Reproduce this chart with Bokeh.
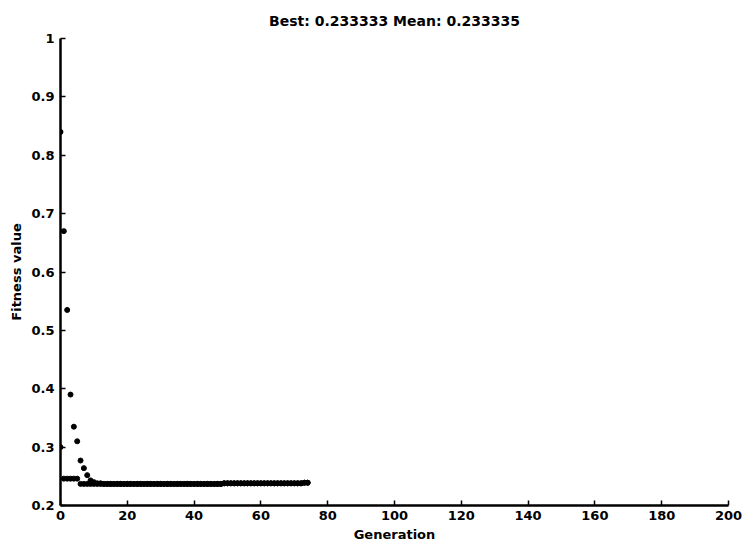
from bokeh.plotting import figure
from bokeh.embed import file_html
from bokeh.resources import INLINE
from bokeh.models import FixedTicker

# Generation index
generations = [0, 1, 2, 3, 4, 5, 6, 7, 8, 9,
               10, 11, 12, 13, 14, 15, 16, 17, 18, 19,
               20, 21, 22, 23, 24, 25, 26, 27, 28, 29,
               30, 31, 32, 33, 34, 35, 36, 37, 38, 39,
               40, 41, 42, 43, 44, 45, 46, 47, 48, 49,
               50, 51, 52, 53, 54, 55, 56, 57, 58, 59,
               60, 61, 62, 63, 64, 65, 66, 67, 68, 69,
               70, 71, 72, 73, 74]

best_fitness = [0.300, 0.246, 0.246, 0.246, 0.246, 0.246, 0.237, 0.237, 0.237, 0.237,
                0.237, 0.237, 0.237, 0.237, 0.237, 0.237, 0.237, 0.237, 0.237, 0.237,
                0.237, 0.237, 0.237, 0.237, 0.237, 0.237, 0.237, 0.237, 0.237, 0.237,
                0.237, 0.237, 0.237, 0.237, 0.237, 0.237, 0.237, 0.237, 0.237, 0.237,
                0.237, 0.237, 0.237, 0.237, 0.237, 0.237, 0.237, 0.237, 0.237, 0.238,
                0.238, 0.238, 0.238, 0.238, 0.238, 0.238, 0.238, 0.238, 0.238, 0.238,
                0.238, 0.238, 0.238, 0.238, 0.238, 0.238, 0.238, 0.238, 0.238, 0.238,
                0.238, 0.238, 0.238, 0.239, 0.239]

mean_fitness = [0.840, 0.670, 0.535, 0.390, 0.335, 0.310, 0.277, 0.264, 0.252, 0.243,
                0.240, 0.238, 0.238, 0.237, 0.237, 0.237, 0.237, 0.237, 0.237, 0.237,
                0.237, 0.237, 0.237, 0.237, 0.237, 0.237, 0.237, 0.237, 0.237, 0.237,
                0.237, 0.237, 0.237, 0.237, 0.237, 0.237, 0.237, 0.237, 0.237, 0.237,
                0.237, 0.237, 0.237, 0.237, 0.237, 0.237, 0.237, 0.237, 0.237, 0.238,
                0.238, 0.238, 0.238, 0.238, 0.238, 0.238, 0.238, 0.238, 0.238, 0.238,
                0.238, 0.238, 0.238, 0.238, 0.238, 0.238, 0.238, 0.238, 0.238, 0.238,
                0.238, 0.238, 0.238, 0.239, 0.239]

x_ticks = [0, 20, 40, 60, 80, 100, 120, 140, 160, 180, 200]
y_ticks = [0.2, 0.3, 0.4, 0.5, 0.6, 0.7, 0.8, 0.9, 1.0]
y_tick_labels = {0.2: "0.2", 0.3: "0.3", 0.4: "0.4", 0.5: "0.5", 0.6: "0.6",
                 0.7: "0.7", 0.8: "0.8", 0.9: "0.9", 1.0: "1"}

title_text = "Best: 0.233333 Mean: 0.233335"

FONT = "DejaVu Sans"

p = figure(width=746, height=544, x_range=(0, 200), y_range=(0.2, 1.0),
           output_backend="svg", toolbar_location=None,
           min_border_left=60, min_border_right=18,
           min_border_top=38, min_border_bottom=38)

p.title.text = title_text
p.title.align = "center"
p.title.text_font = FONT
p.title.text_font_size = "14px"
p.title.text_font_style = "bold"
p.title.text_color = "black"
p.title.standoff = 19
p.title.offset = -9

p.outline_line_color = None
p.grid.visible = False
p.background_fill_color = "white"
p.border_fill_color = "white"

for ax in (p.xaxis[0], p.yaxis[0]):
    ax.axis_line_color = "black"
    ax.axis_line_width = 2.5
    ax.major_tick_line_color = "black"
    ax.major_tick_line_width = 1.5
    ax.major_tick_in = 5
    ax.major_tick_out = 0
    ax.minor_tick_line_color = None
    ax.major_label_text_font = FONT
    ax.major_label_text_font_size = "13px"
    ax.major_label_text_font_style = "bold"
    ax.major_label_text_color = "black"
    ax.axis_label_text_font = FONT
    ax.axis_label_text_font_size = "13px"
    ax.axis_label_text_font_style = "bold"
    ax.axis_label_text_color = "black"

p.xaxis.ticker = FixedTicker(ticks=x_ticks)
p.yaxis.ticker = FixedTicker(ticks=y_ticks)
p.yaxis.major_label_overrides = y_tick_labels
p.xaxis.axis_label = "Generation"
p.yaxis.axis_label = "Fitness value"
p.xaxis.major_label_standoff = 5
p.xaxis.axis_label_standoff = 4
p.yaxis.major_label_standoff = 6
p.yaxis.axis_label_standoff = 4

p.scatter(generations, best_fitness, size=5, color="black", marker="circle")
p.scatter(generations, mean_fitness, size=5, color="black", marker="circle")

open("out.html", "w").write(file_html(p, INLINE))
